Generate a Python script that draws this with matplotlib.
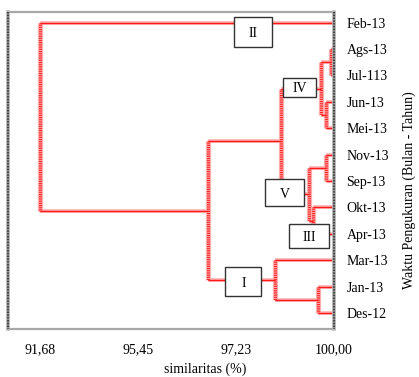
import matplotlib
matplotlib.use("Agg")
import matplotlib.pyplot as plt
from matplotlib.patches import Rectangle

# -----------------------------
# Data
# -----------------------------
months = ["Feb-13", "Ags-13", "Jul-113", "Jun-13", "Mei-13", "Nov-13",
          "Sep-13", "Okt-13", "Apr-13", "Mar-13", "Jan-13", "Des-12"]

# tick labels are evenly spaced on the axis (position 0..3)
tick_pos = [0, 1, 2, 3]
tick_labels = ["91,68", "95,45", "97,23", "100,00"]

# merges: (child a, child b, height on the axis scale)
# leaves are 0..11, new clusters numbered from 12 upward
merges = [
    (1, 2, 2.97),    # 12 Ags + Jul
    (3, 4, 2.92),    # 13 Jun + Mei
    (12, 13, 2.87),  # 14 IV
    (5, 6, 2.92),    # 15 Nov + Sep
    (7, 8, 2.79),    # 16 Okt + Apr
    (15, 16, 2.74),  # 17 V
    (14, 17, 2.46),  # 18
    (10, 11, 2.84),  # 19 Jan + Des
    (9, 19, 2.40),   # 20 Mar + (Jan, Des)
    (18, 20, 1.71),  # 21
    (0, 21, 0.0),    # 22 Feb + rest
]

# cluster boxes: label, x0, x1, y0, y1
boxes = [
    ("II", 1.98, 2.37, -0.21, 0.93),
    ("IV", 2.48, 2.82, 2.10, 2.82),
    ("V", 2.30, 2.69, 5.93, 6.95),
    ("III", 2.54, 2.95, 7.63, 8.54),
    ("I", 1.89, 2.26, 9.26, 10.36),
]

# -----------------------------
# Plot
# -----------------------------
plt.rcParams["font.family"] = ["Liberation Serif", "DejaVu Serif"]
fig = plt.figure(figsize=(4.19, 3.77), dpi=100)
ax = fig.add_axes([8 / 419, 1 - 329 / 377, 326 / 419, 317 / 377])

red = "#ff1a1a"
pink = "#ffb0b0"
fs = 10


def vline(x, y0, y1):
    ax.plot([x, x], [y0, y1], color=pink, lw=3.8, solid_capstyle="butt", zorder=2)
    ax.plot([x, x], [y0, y1], color=red, lw=2.2, dashes=(0.3, 0.3),
            solid_capstyle="butt", zorder=3)


def hline(x0, x1, y):
    ax.plot([x0, x1], [y, y], color=pink, lw=2.6, solid_capstyle="butt", zorder=2)
    ax.plot([x0, x1], [y, y], color=red, lw=1.0, solid_capstyle="butt", zorder=3)


n = len(months)
ypos = {i: float(i) for i in range(n)}
xpos = {i: 3.0 for i in range(n)}
for k, (a, b, h) in enumerate(merges):
    node = n + k
    hline(h, xpos[a], ypos[a])
    hline(h, xpos[b], ypos[b])
    vline(h, ypos[a], ypos[b])
    ypos[node] = (ypos[a] + ypos[b]) / 2
    xpos[node] = h

for lab, x0, x1, y0, y1 in boxes:
    ax.add_patch(Rectangle((x0, y0), x1 - x0, y1 - y0, facecolor="white",
                           edgecolor="#333333", lw=1.0, zorder=5))
    ax.text((x0 + x1) / 2, (y0 + y1) / 2 + 0.05, lab, ha="center", va="center",
            fontsize=fs, zorder=6)

ax.set_xlim(-0.325, 3.0)
ax.set_ylim(11.6, -0.4)

ax.set_xticks(tick_pos)
ax.set_xticklabels(tick_labels, fontsize=fs)
ax.tick_params(axis="x", length=2, width=1.5, color="#b0b0b0", direction="inout", pad=9)

ax.yaxis.tick_right()
ax.set_yticks(range(n))
ax.set_yticklabels(months, fontsize=fs)
ax.tick_params(axis="y", length=0, pad=9)

for s in ["top", "bottom"]:
    ax.spines[s].set_color("#a8a8a8")
    ax.spines[s].set_linewidth(1.6)
for s in ["left", "right"]:
    ax.spines[s].set_visible(False)
for xs in [-0.325, 3.0]:
    ax.plot([xs, xs], [-0.4, 11.6], color="#b8b8b8", lw=2.6, zorder=4, clip_on=False)
    ax.plot([xs, xs], [-0.4, 11.6], color="#202020", lw=1.6, dashes=(0.35, 0.35),
            zorder=4, clip_on=False)

fig.text(205 / 419, 1 - 369 / 377, "similaritas (%)", ha="center", va="center", fontsize=fs)
fig.text(409 / 419, 1 - 190 / 377, "Waktu Pengukuran (Bulan - Tahun)", ha="center",
         va="center", rotation=90, fontsize=fs)

fig.savefig("out.png", dpi=100)
